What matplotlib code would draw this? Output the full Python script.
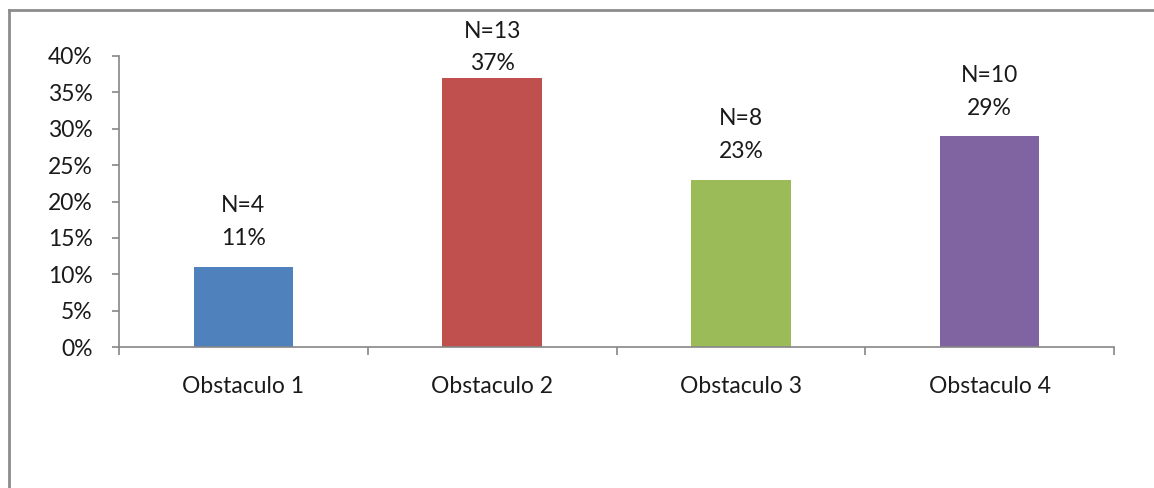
import matplotlib
matplotlib.use("Agg")
import matplotlib.pyplot as plt
from matplotlib.lines import Line2D
from matplotlib.ticker import FixedLocator, FuncFormatter

categories = ["Obstaculo 1", "Obstaculo 2", "Obstaculo 3", "Obstaculo 4"]
percentages = [11, 37, 23, 29]
counts = [4, 13, 8, 10]
colors = ["#4F81BD", "#C0504D", "#9BBB59", "#8064A2"]
y_ticks = [0, 5, 10, 15, 20, 25, 30, 35, 40]

W, H, DPI = 1154, 488, 100
fig = plt.figure(figsize=(W / DPI, H / DPI), dpi=DPI)
plt.rcParams["font.family"] = ["Lato", "DejaVu Sans"]
FS = 16.5

ax = fig.add_axes([119 / W, 1 - 347 / H, (1114 - 119) / W, (347 - 56) / H])

x = list(range(len(categories)))
ax.bar(x, percentages, width=0.4, color=colors, zorder=2)

ax.set_xlim(-0.5, len(categories) - 0.5)
ax.set_ylim(0, 40)

axis_color = "#868686"
text_color = "#1a1a1a"
for side in ("top", "right"):
    ax.spines[side].set_visible(False)
for side in ("left", "bottom"):
    ax.spines[side].set_color(axis_color)
    ax.spines[side].set_linewidth(1.2)

ax.yaxis.set_major_locator(FixedLocator(y_ticks))
ax.yaxis.set_major_formatter(FuncFormatter(lambda v, _: f"{int(v)}%"))
ax.tick_params(axis="y", direction="out", length=5, width=1.2, color=axis_color,
               labelsize=FS, labelcolor=text_color, pad=14)

# Category boundaries carry the tick marks; labels sit at bar centres
ax.set_xticks([i - 0.5 for i in range(len(categories) + 1)])
ax.set_xticklabels([])
ax.tick_params(axis="x", which="major", direction="out", length=6, width=1.2, color=axis_color)
ax.set_xticks(x, minor=True)
ax.set_xticklabels(categories, minor=True)
ax.tick_params(axis="x", which="minor", length=0, labelsize=FS, labelcolor=text_color, pad=21)

# Data labels: percentage above the bar, count above that; kept inside the chart
fig.canvas.draw()
for xi, p, n in zip(x, percentages, counts):
    bar_top_px = H - ax.transData.transform((xi, p))[1]
    pct_off = min(28, bar_top_px - 64)
    ax.annotate(f"{p}%", (xi, p), xytext=(0, pct_off), textcoords="offset pixels",
                ha="center", va="center", fontsize=FS, color=text_color)
    ax.annotate(f"N={n}", (xi, p), xytext=(0, pct_off + 33), textcoords="offset pixels",
                ha="center", va="center", fontsize=FS, color=text_color)

# Chart-area frame along the left and top edges
frame_color = "#8C8C8C"
fig.add_artist(Line2D([8.5 / W, 8.5 / W], [0, 1 - 10 / H], transform=fig.transFigure,
                      color=frame_color, linewidth=2))
fig.add_artist(Line2D([8.5 / W, 1], [1 - 10 / H, 1 - 10 / H], transform=fig.transFigure,
                      color=frame_color, linewidth=2))

fig.savefig("out.png", dpi=DPI)
